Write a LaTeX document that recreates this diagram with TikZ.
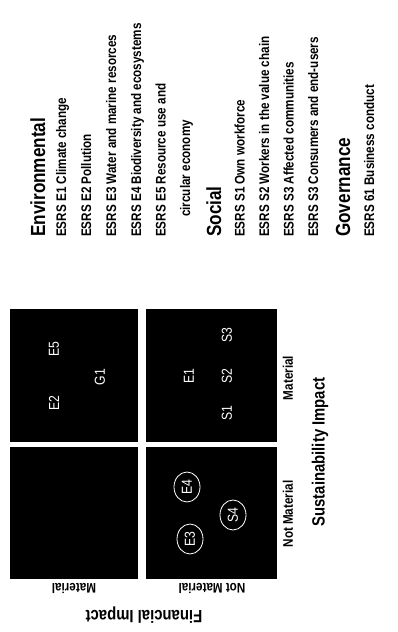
\documentclass[tikz,border=0pt]{standalone}
\usepackage{fontspec}
\setmainfont[FakeStretch=0.84]{Liberation Sans}
\begin{document}
\begin{tikzpicture}[x=1pt,y=-1pt,
  quad/.style={fill=black},
  item/.style={rotate=90,anchor=base west,inner sep=0pt,font=\bfseries\fontsize{13.9}{15}\selectfont},
  head/.style={rotate=90,anchor=base west,inner sep=0pt,font=\bfseries\fontsize{20.4}{22}\selectfont},
  axl/.style={rotate=90,inner sep=0pt,font=\bfseries\fontsize{13.9}{15}\selectfont},
  axt/.style={rotate=90,inner sep=0pt,font=\bfseries\fontsize{17.7}{19}\selectfont},
  yl/.style={rotate=180,inner sep=0pt,font=\bfseries\fontsize{13.9}{15}\selectfont},
  yt/.style={rotate=180,inner sep=0pt,font=\bfseries\fontsize{17.7}{19}\selectfont},
  lab/.style={rotate=90,inner sep=0pt,text=white,font=\fontsize{14.5}{16}\selectfont},
  ring/.style={draw=white,line width=0.8pt}
]
\fill[white] (0,0) rectangle (398,632);
\useasboundingbox (0,0) rectangle (398,632);

% quadrants
\fill[quad] (10,309) rectangle (138,442);
\fill[quad] (146,309) rectangle (277,442);
\fill[quad] (10,447) rectangle (138,579);
\fill[quad] (146,447) rectangle (277,579);

% labels in quadrants
\node[lab] (e5) at (54,349) {E5};
\node[lab] (e2) at (54,403) {E2};
\node[lab] (g1) at (100,377) {G1};
\node[lab] (e1) at (189,376) {E1};
\node[lab] (s1) at (227,413) {S1};
\node[lab] (s2) at (227,376) {S2};
\node[lab] (s3) at (227,335) {S3};
\node[lab] (e4) at (187,487) {E4};
\node[lab] (e3) at (190,539) {E3};
\node[lab] (s4) at (233,515) {S4};
\draw[ring] (e4) ellipse [x radius=13pt, y radius=15pt];
\draw[ring] (e3) ellipse [x radius=13pt, y radius=15pt];
\draw[ring] (s4) ellipse [x radius=13pt, y radius=15pt];

% axes
\node[axl] (xm) at (288,378) {Material};
\node[axl] (xn) at (288,514) {Not Material};
\node[axt] (xt) at (320,452) {Sustainability Impact};
\node[yl] (ym) at (74,588) {Material};
\node[yl] (yn) at (212,588) {Not Material};
\node[yt] (yt) at (144,615) {Financial Impact};

% legend
\node[head] (henv) at (45,237) {Environmental};
\node[item] (l1) at (66,237) {ESRS E1 Climate change};
\node[item] (l2) at (91,237) {ESRS E2 Pollution};
\node[item] (l3) at (116,237) {ESRS E3 Water and marine resorces};
\node[item] (l4) at (141,237) {ESRS E4 Biodiversity and ecosystems};
\node[item] (l5) at (165.5,237) {ESRS E5 Resource use and};
\node[item] (l5b) at (190,217) {circular economy};
\node[head] (hsoc) at (221,237) {Social};
\node[item] (l6) at (244.5,237) {ESRS S1 Own workforce};
\node[item] (l7) at (269,237) {ESRS S2 Workers in the value chain};
\node[item] (l8) at (293.5,237) {ESRS S3 Affected communities};
\node[item] (l9) at (318,237) {ESRS S3 Consumers and end-users};
\node[head] (hgov) at (350,237) {Governance};
\node[item] (l10) at (374,237) {ESRS 61 Business conduct};
\end{tikzpicture}
\end{document}
